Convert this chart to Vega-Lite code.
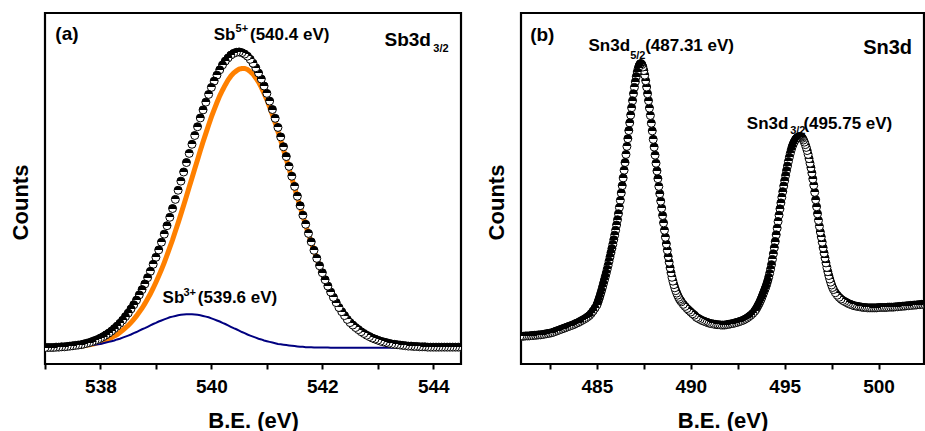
{
"$schema": "https://vega.github.io/schema/vega-lite/v6.json",
"background": "white",
"padding": {"left": 7, "top": 11, "right": 0, "bottom": 0},
"spacing": 60,
"bounds": "flush",
"config": {
 "view": {"stroke": "black", "strokeWidth": 2.2},
 "font": "Liberation Sans",
 "axisY": {"labels": false, "ticks": false, "domain": false, "grid": false, "titleX": -25, "titleY": 189, "titleAngle": -90, "titleAlign": "center", "titleBaseline": "middle", "titleFontSize": 22, "titleFontWeight": "bold", "titleColor": "black", "titleFont": "Liberation Sans"},
 "axisX": {"domain": false, "grid": false, "tickSize": 5, "tickWidth": 2, "tickColor": "black", "labelFont": "Liberation Sans", "labelFontSize": 19, "labelFontWeight": "bold", "labelColor": "black", "labelPadding": 8, "labelOverlap": false, "labelFlush": false, "titleFont": "Liberation Sans", "titleFontSize": 22, "titleFontWeight": "bold", "titleColor": "black", "titleY": 56, "titleBaseline": "middle"}
},
"datasets": {
 "sb": [
{"x":544.5,"c":4.8,"o":4.6,"b":4.6},{"x":544.45,"c":4.8,"o":4.6,"b":4.6},{"x":544.4,"c":4.8,"o":4.6,"b":4.6},{"x":544.35,"c":4.8,"o":4.6,"b":4.6},{"x":544.3,"c":4.8,"o":4.6,"b":4.6},{"x":544.25,"c":4.8,"o":4.6,"b":4.6},{"x":544.2,"c":4.8,"o":4.6,"b":4.6},{"x":544.15,"c":4.8,"o":4.6,"b":4.6},{"x":544.1,"c":4.8,"o":4.6,"b":4.6},{"x":544.05,"c":4.8,"o":4.6,"b":4.6},{"x":544.0,"c":4.8,"o":4.6,"b":4.6},
{"x":543.95,"c":4.8,"o":4.6,"b":4.6},{"x":543.9,"c":4.8,"o":4.7,"b":4.6},{"x":543.85,"c":4.9,"o":4.7,"b":4.6},{"x":543.8,"c":4.9,"o":4.7,"b":4.6},{"x":543.75,"c":4.9,"o":4.7,"b":4.6},{"x":543.7,"c":5.0,"o":4.7,"b":4.6},{"x":543.65,"c":5.0,"o":4.8,"b":4.6},{"x":543.6,"c":5.1,"o":4.8,"b":4.6},{"x":543.55,"c":5.1,"o":4.9,"b":4.6},{"x":543.5,"c":5.2,"o":4.9,"b":4.6},
{"x":543.45,"c":5.3,"o":5.0,"b":4.6},{"x":543.4,"c":5.4,"o":5.1,"b":4.6},{"x":543.35,"c":5.5,"o":5.1,"b":4.6},{"x":543.3,"c":5.6,"o":5.3,"b":4.6},{"x":543.25,"c":5.7,"o":5.4,"b":4.6},{"x":543.2,"c":5.9,"o":5.5,"b":4.6},{"x":543.15,"c":6.1,"o":5.7,"b":4.6},{"x":543.1,"c":6.3,"o":5.9,"b":4.6},{"x":543.05,"c":6.5,"o":6.1,"b":4.6},{"x":543.0,"c":6.8,"o":6.4,"b":4.6},
{"x":542.95,"c":7.1,"o":6.7,"b":4.6},{"x":542.9,"c":7.4,"o":7.0,"b":4.6},{"x":542.85,"c":7.8,"o":7.4,"b":4.6},{"x":542.8,"c":8.2,"o":7.8,"b":4.6},{"x":542.75,"c":8.7,"o":8.3,"b":4.6},{"x":542.7,"c":9.2,"o":8.9,"b":4.6},{"x":542.65,"c":9.8,"o":9.5,"b":4.6},{"x":542.6,"c":10.4,"o":10.2,"b":4.6},{"x":542.55,"c":11.1,"o":10.9,"b":4.6},{"x":542.5,"c":11.8,"o":11.8,"b":4.6},
{"x":542.45,"c":12.7,"o":12.7,"b":4.6},{"x":542.4,"c":13.8,"o":13.8,"b":4.6},{"x":542.35,"c":14.9,"o":14.9,"b":4.6},{"x":542.3,"c":16.1,"o":16.1,"b":4.6},{"x":542.25,"c":17.5,"o":17.5,"b":4.6},{"x":542.2,"c":19.0,"o":18.9,"b":4.6},{"x":542.15,"c":20.5,"o":20.5,"b":4.6},{"x":542.1,"c":22.2,"o":22.2,"b":4.7},{"x":542.05,"c":24.0,"o":24.0,"b":4.7},{"x":542.0,"c":26.0,"o":25.9,"b":4.7},
{"x":541.95,"c":28.0,"o":27.9,"b":4.7},{"x":541.9,"c":30.1,"o":30.0,"b":4.7},{"x":541.85,"c":32.4,"o":32.3,"b":4.7},{"x":541.8,"c":34.8,"o":34.6,"b":4.8},{"x":541.75,"c":37.2,"o":37.0,"b":4.8},{"x":541.7,"c":39.8,"o":39.5,"b":4.8},{"x":541.65,"c":42.4,"o":42.1,"b":4.9},{"x":541.6,"c":45.1,"o":44.8,"b":4.9},{"x":541.55,"c":47.8,"o":47.4,"b":5.0},{"x":541.5,"c":50.6,"o":50.2,"b":5.1},
{"x":541.45,"c":53.5,"o":52.9,"b":5.2},{"x":541.4,"c":56.3,"o":55.6,"b":5.3},{"x":541.35,"c":59.1,"o":58.4,"b":5.4},{"x":541.3,"c":61.9,"o":61.0,"b":5.5},{"x":541.25,"c":64.7,"o":63.7,"b":5.6},{"x":541.2,"c":67.4,"o":66.2,"b":5.7},{"x":541.15,"c":70.0,"o":68.7,"b":5.9},{"x":541.1,"c":72.5,"o":71.0,"b":6.1},{"x":541.05,"c":74.9,"o":73.2,"b":6.3},{"x":541.0,"c":77.1,"o":75.3,"b":6.5},
{"x":540.95,"c":79.2,"o":77.1,"b":6.7},{"x":540.9,"c":81.2,"o":78.8,"b":7.0},{"x":540.85,"c":82.9,"o":80.3,"b":7.2},{"x":540.8,"c":84.4,"o":81.5,"b":7.5},{"x":540.75,"c":85.7,"o":82.6,"b":7.8},{"x":540.7,"c":86.8,"o":83.3,"b":8.1},{"x":540.65,"c":87.7,"o":83.9,"b":8.4},{"x":540.6,"c":88.3,"o":84.2,"b":8.8},{"x":540.55,"c":88.7,"o":84.2,"b":9.1},{"x":540.5,"c":88.9,"o":84.0,"b":9.5},
{"x":540.45,"c":88.8,"o":83.5,"b":9.9},{"x":540.4,"c":88.5,"o":82.9,"b":10.2},{"x":540.35,"c":88.0,"o":82.0,"b":10.6},{"x":540.3,"c":87.2,"o":80.9,"b":11.0},{"x":540.25,"c":86.3,"o":79.5,"b":11.4},{"x":540.2,"c":85.2,"o":78.0,"b":11.7},{"x":540.15,"c":83.8,"o":76.4,"b":12.1},{"x":540.1,"c":82.3,"o":74.5,"b":12.4},{"x":540.05,"c":80.6,"o":72.5,"b":12.7},{"x":540.0,"c":78.8,"o":70.4,"b":13.0},
{"x":539.95,"c":76.8,"o":68.1,"b":13.3},{"x":539.9,"c":74.6,"o":65.7,"b":13.5},{"x":539.85,"c":72.4,"o":63.3,"b":13.7},{"x":539.8,"c":70.1,"o":60.8,"b":13.9},{"x":539.75,"c":67.6,"o":58.2,"b":14.0},{"x":539.7,"c":65.1,"o":55.6,"b":14.1},{"x":539.65,"c":62.6,"o":53.0,"b":14.2},{"x":539.6,"c":60.0,"o":50.4,"b":14.2},{"x":539.55,"c":57.4,"o":47.8,"b":14.2},{"x":539.5,"c":54.7,"o":45.2,"b":14.1},
{"x":539.45,"c":52.1,"o":42.7,"b":14.0},{"x":539.4,"c":49.5,"o":40.2,"b":13.9},{"x":539.35,"c":46.9,"o":37.8,"b":13.7},{"x":539.3,"c":44.3,"o":35.4,"b":13.5},{"x":539.25,"c":41.8,"o":33.2,"b":13.3},{"x":539.2,"c":39.4,"o":31.0,"b":13.0},{"x":539.15,"c":37.0,"o":28.9,"b":12.7},{"x":539.1,"c":34.7,"o":26.9,"b":12.4},{"x":539.05,"c":32.5,"o":25.1,"b":12.1},{"x":539.0,"c":30.4,"o":23.3,"b":11.7},
{"x":538.95,"c":28.4,"o":21.6,"b":11.4},{"x":538.9,"c":26.4,"o":20.0,"b":11.0},{"x":538.85,"c":24.6,"o":18.6,"b":10.6},{"x":538.8,"c":22.8,"o":17.2,"b":10.2},{"x":538.75,"c":21.2,"o":15.9,"b":9.9},{"x":538.7,"c":19.7,"o":14.8,"b":9.5},{"x":538.65,"c":18.2,"o":13.7,"b":9.1},{"x":538.6,"c":16.9,"o":12.7,"b":8.8},{"x":538.55,"c":15.7,"o":11.8,"b":8.4},{"x":538.5,"c":14.5,"o":11.0,"b":8.1},
{"x":538.45,"c":13.5,"o":10.3,"b":7.8},{"x":538.4,"c":12.5,"o":9.6,"b":7.5},{"x":538.35,"c":11.6,"o":9.0,"b":7.2},{"x":538.3,"c":10.8,"o":8.4,"b":7.0},{"x":538.25,"c":10.1,"o":8.0,"b":6.7},{"x":538.2,"c":9.4,"o":7.5,"b":6.5},{"x":538.15,"c":8.8,"o":7.1,"b":6.3},{"x":538.1,"c":8.3,"o":6.8,"b":6.1},{"x":538.05,"c":7.8,"o":6.5,"b":5.9},{"x":538.0,"c":7.4,"o":6.2,"b":5.7},
{"x":537.95,"c":7.0,"o":6.0,"b":5.6},{"x":537.9,"c":6.7,"o":5.8,"b":5.5},{"x":537.85,"c":6.4,"o":5.6,"b":5.4},{"x":537.8,"c":6.1,"o":5.5,"b":5.3},{"x":537.75,"c":5.9,"o":5.3,"b":5.2},{"x":537.7,"c":5.7,"o":5.2,"b":5.1},{"x":537.65,"c":5.5,"o":5.1,"b":5.0},{"x":537.6,"c":5.4,"o":5.0,"b":4.9},{"x":537.55,"c":5.3,"o":5.0,"b":4.9},{"x":537.5,"c":5.2,"o":4.9,"b":4.8},
{"x":537.45,"c":5.1,"o":4.9,"b":4.8},{"x":537.4,"c":5.0,"o":4.8,"b":4.8},{"x":537.35,"c":4.9,"o":4.8,"b":4.7},{"x":537.3,"c":4.9,"o":4.8,"b":4.7},{"x":537.25,"c":4.8,"o":4.7,"b":4.7},{"x":537.2,"c":4.8,"o":4.7,"b":4.7},{"x":537.15,"c":4.7,"o":4.7,"b":4.7},{"x":537.1,"c":4.7,"o":4.7,"b":4.7},{"x":537.05,"c":4.7,"o":4.7,"b":4.6},{"x":537.0,"c":4.7,"o":4.6,"b":4.6}
 ],
 "sn": [
{"x":502.5,"c":17.0},{"x":502.4,"c":17.0},{"x":502.3,"c":17.0},{"x":502.2,"c":16.9},{"x":502.1,"c":16.9},{"x":502.0,"c":16.8},{"x":501.9,"c":16.8},{"x":501.8,"c":16.7},{"x":501.7,"c":16.7},{"x":501.6,"c":16.6},{"x":501.5,"c":16.6},{"x":501.4,"c":16.5},{"x":501.3,"c":16.5},{"x":501.2,"c":16.4},{"x":501.1,"c":16.4},{"x":501.0,"c":16.3},
{"x":500.9,"c":16.3},{"x":500.8,"c":16.2},{"x":500.7,"c":16.2},{"x":500.6,"c":16.2},{"x":500.5,"c":16.2},{"x":500.4,"c":16.1},{"x":500.3,"c":16.1},{"x":500.2,"c":16.1},{"x":500.1,"c":16.1},{"x":500.0,"c":16.1},
{"x":499.9,"c":16.0},{"x":499.8,"c":16.0},{"x":499.7,"c":16.0},{"x":499.6,"c":16.0},{"x":499.5,"c":16.0},{"x":499.4,"c":16.0},{"x":499.3,"c":16.1},{"x":499.2,"c":16.1},{"x":499.1,"c":16.2},{"x":499.0,"c":16.3},
{"x":498.9,"c":16.4},{"x":498.8,"c":16.5},{"x":498.7,"c":16.6},{"x":498.6,"c":16.8},{"x":498.5,"c":17.0},{"x":498.4,"c":17.2},{"x":498.3,"c":17.5},{"x":498.2,"c":17.8},{"x":498.1,"c":18.1},{"x":498.0,"c":18.5},
{"x":497.9,"c":19.0},{"x":497.8,"c":19.6},{"x":497.7,"c":20.3},{"x":497.6,"c":21.2},{"x":497.55,"c":21.8},{"x":497.5,"c":22.5},{"x":497.45,"c":23.3},{"x":497.4,"c":24.2},{"x":497.35,"c":25.2},{"x":497.3,"c":26.3},{"x":497.25,"c":27.5},{"x":497.2,"c":28.8},{"x":497.15,"c":30.2},{"x":497.1,"c":31.6},{"x":497.05,"c":33.1},{"x":497.0,"c":34.7},
{"x":496.95,"c":36.2},{"x":496.9,"c":37.6},{"x":496.85,"c":39.2},{"x":496.8,"c":40.9},{"x":496.75,"c":42.8},{"x":496.7,"c":44.8},{"x":496.65,"c":46.8},{"x":496.6,"c":48.9},{"x":496.55,"c":50.9},{"x":496.5,"c":52.7},{"x":496.45,"c":54.4},{"x":496.4,"c":55.9},{"x":496.35,"c":57.2},{"x":496.3,"c":58.5},{"x":496.25,"c":59.7},{"x":496.2,"c":60.8},{"x":496.15,"c":61.7},{"x":496.1,"c":62.5},{"x":496.05,"c":63.2},{"x":496.0,"c":63.8},
{"x":495.95,"c":64.3},{"x":495.9,"c":64.6},{"x":495.85,"c":64.8},{"x":495.8,"c":64.8},{"x":495.75,"c":64.7},{"x":495.7,"c":64.6},{"x":495.65,"c":64.4},{"x":495.6,"c":64.1},{"x":495.55,"c":63.7},{"x":495.5,"c":63.2},{"x":495.45,"c":62.6},{"x":495.4,"c":61.9},{"x":495.35,"c":61.0},{"x":495.3,"c":60.0},{"x":495.25,"c":58.9},{"x":495.2,"c":57.7},{"x":495.15,"c":56.4},{"x":495.1,"c":55.1},{"x":495.05,"c":53.7},{"x":495.0,"c":52.2},
{"x":494.95,"c":50.7},{"x":494.9,"c":49.1},{"x":494.85,"c":47.5},{"x":494.8,"c":45.9},{"x":494.75,"c":44.2},{"x":494.7,"c":42.4},{"x":494.65,"c":40.6},{"x":494.6,"c":38.7},{"x":494.55,"c":36.8},{"x":494.5,"c":34.9},{"x":494.45,"c":33.1},{"x":494.4,"c":31.4},{"x":494.35,"c":29.8},{"x":494.3,"c":28.3},{"x":494.25,"c":27.0},{"x":494.2,"c":25.8},{"x":494.15,"c":24.7},{"x":494.1,"c":23.7},{"x":494.05,"c":22.8},{"x":494.0,"c":22.0},
{"x":493.95,"c":21.3},{"x":493.9,"c":20.6},{"x":493.85,"c":19.9},{"x":493.8,"c":19.2},{"x":493.75,"c":18.5},{"x":493.7,"c":17.9},{"x":493.65,"c":17.3},{"x":493.6,"c":16.8},{"x":493.55,"c":16.3},{"x":493.5,"c":15.8},{"x":493.45,"c":15.4},{"x":493.4,"c":15.0},{"x":493.3,"c":14.4},{"x":493.2,"c":13.9},{"x":493.1,"c":13.5},{"x":493.0,"c":13.1},
{"x":492.9,"c":12.8},{"x":492.8,"c":12.5},{"x":492.7,"c":12.3},{"x":492.6,"c":12.1},{"x":492.5,"c":11.9},{"x":492.4,"c":11.8},{"x":492.3,"c":11.6},{"x":492.2,"c":11.5},{"x":492.1,"c":11.4},{"x":492.0,"c":11.3},
{"x":491.9,"c":11.2},{"x":491.8,"c":11.1},{"x":491.7,"c":11.1},{"x":491.6,"c":11.1},{"x":491.5,"c":11.2},{"x":491.4,"c":11.2},{"x":491.3,"c":11.3},{"x":491.2,"c":11.4},{"x":491.1,"c":11.5},{"x":491.0,"c":11.6},
{"x":490.9,"c":11.8},{"x":490.8,"c":12.0},{"x":490.7,"c":12.2},{"x":490.6,"c":12.4},{"x":490.5,"c":12.7},{"x":490.4,"c":13.0},{"x":490.3,"c":13.3},{"x":490.2,"c":13.9},{"x":490.1,"c":14.3},{"x":490.0,"c":14.8},
{"x":489.9,"c":15.3},{"x":489.8,"c":15.8},{"x":489.7,"c":16.4},{"x":489.6,"c":17.0},{"x":489.5,"c":17.7},{"x":489.45,"c":18.1},{"x":489.4,"c":18.5},{"x":489.35,"c":19.0},{"x":489.3,"c":19.6},{"x":489.25,"c":20.2},{"x":489.2,"c":20.9},{"x":489.15,"c":21.7},{"x":489.1,"c":22.6},{"x":489.05,"c":23.6},{"x":489.0,"c":24.7},
{"x":488.95,"c":26.0},{"x":488.9,"c":27.4},{"x":488.85,"c":29.0},{"x":488.8,"c":30.6},{"x":488.75,"c":32.4},{"x":488.7,"c":34.2},{"x":488.65,"c":36.1},{"x":488.6,"c":38.1},{"x":488.55,"c":40.2},{"x":488.5,"c":42.3},{"x":488.45,"c":44.4},{"x":488.4,"c":46.4},{"x":488.35,"c":48.5},{"x":488.3,"c":50.6},{"x":488.25,"c":52.8},{"x":488.2,"c":55.0},{"x":488.15,"c":57.2},{"x":488.1,"c":59.5},{"x":488.05,"c":61.8},{"x":488.0,"c":64.0},
{"x":487.95,"c":66.4},{"x":487.9,"c":68.6},{"x":487.85,"c":70.8},{"x":487.8,"c":72.9},{"x":487.75,"c":75.0},{"x":487.7,"c":77.0},{"x":487.65,"c":78.9},{"x":487.6,"c":80.7},{"x":487.55,"c":82.3},{"x":487.5,"c":83.6},{"x":487.45,"c":84.6},{"x":487.4,"c":85.3},{"x":487.35,"c":85.6},{"x":487.3,"c":85.5},{"x":487.25,"c":85.0},{"x":487.2,"c":84.2},{"x":487.15,"c":83.2},{"x":487.1,"c":81.9},{"x":487.05,"c":80.4},{"x":487.0,"c":78.8},
{"x":486.95,"c":77.0},{"x":486.9,"c":75.0},{"x":486.85,"c":73.0},{"x":486.8,"c":70.9},{"x":486.75,"c":68.7},{"x":486.7,"c":66.5},{"x":486.65,"c":64.2},{"x":486.6,"c":62.0},{"x":486.55,"c":59.7},{"x":486.5,"c":57.4},{"x":486.45,"c":55.2},{"x":486.4,"c":53.0},{"x":486.35,"c":50.8},{"x":486.3,"c":48.7},{"x":486.25,"c":46.6},{"x":486.2,"c":44.6},{"x":486.15,"c":42.8},{"x":486.1,"c":41.1},{"x":486.05,"c":39.6},{"x":486.0,"c":38.1},
{"x":485.95,"c":36.7},{"x":485.9,"c":35.4},{"x":485.85,"c":34.1},{"x":485.8,"c":32.9},{"x":485.75,"c":31.7},{"x":485.7,"c":30.5},{"x":485.65,"c":29.3},{"x":485.6,"c":28.1},{"x":485.55,"c":27.0},{"x":485.5,"c":25.9},{"x":485.45,"c":24.9},{"x":485.4,"c":23.9},{"x":485.35,"c":22.9},{"x":485.3,"c":21.9},{"x":485.25,"c":20.9},{"x":485.2,"c":20.0},{"x":485.15,"c":19.1},{"x":485.1,"c":18.3},{"x":485.05,"c":17.5},{"x":485.0,"c":16.8},
{"x":484.9,"c":15.9},{"x":484.8,"c":15.1},{"x":484.7,"c":14.4},{"x":484.6,"c":13.8},{"x":484.5,"c":13.4},{"x":484.4,"c":13.0},{"x":484.3,"c":12.7},{"x":484.2,"c":12.4},{"x":484.1,"c":12.1},{"x":484.0,"c":11.8},
{"x":483.9,"c":11.6},{"x":483.8,"c":11.3},{"x":483.7,"c":11.1},{"x":483.6,"c":10.9},{"x":483.5,"c":10.7},{"x":483.4,"c":10.5},{"x":483.3,"c":10.3},{"x":483.2,"c":10.1},{"x":483.1,"c":9.9},{"x":483.0,"c":9.7},
{"x":482.9,"c":9.5},{"x":482.8,"c":9.3},{"x":482.7,"c":9.1},{"x":482.6,"c":8.9},{"x":482.5,"c":8.8},{"x":482.4,"c":8.7},{"x":482.3,"c":8.6},{"x":482.2,"c":8.5},{"x":482.1,"c":8.4},{"x":482.0,"c":8.3},
{"x":481.9,"c":8.3},{"x":481.8,"c":8.2},{"x":481.7,"c":8.2},{"x":481.6,"c":8.1},{"x":481.5,"c":8.1},{"x":481.4,"c":8.0},{"x":481.3,"c":8.0},{"x":481.2,"c":8.0},{"x":481.1,"c":7.9},{"x":481.0,"c":7.9},{"x":480.9,"c":7.9}
 ]
},
"hconcat": [
 {
  "width": 416, "height": 351,
  "encoding": {"x": {"field": "x", "type": "quantitative", "scale": {"domain": [537, 544.5], "nice": false, "zero": false}, "axis": {"title": "B.E. (eV)", "values": [537, 538, 539, 540, 541, 542, 543, 544], "labelExpr": "datum.value % 2 === 0 ? datum.label : ''"}}},
  "layer": [
   {"data": {"name": "sb"}, "mark": {"type": "line", "color": "#ff8000", "strokeWidth": 5, "clip": true},
    "encoding": {"y": {"field": "o", "type": "quantitative", "scale": {"domain": [0, 100], "nice": false, "zero": false}, "axis": {"title": "Counts"}}}},
   {"data": {"name": "sb"}, "mark": {"type": "line", "color": "#000080", "strokeWidth": 2, "clip": true},
    "encoding": {"y": {"field": "b", "type": "quantitative", "scale": {"domain": [0, 100], "nice": false, "zero": false}, "axis": {"title": "Counts"}}}},
   {"data": {"name": "sb"}, "mark": {"type": "point", "shape": "circle", "size": 64, "filled": true, "opacity": 1, "fillOpacity": 1, "stroke": "black", "strokeWidth": 1, "clip": true,
     "fill": {"gradient": "linear", "x1": 0, "y1": 0, "x2": 0, "y2": 1, "stops": [{"offset": 0, "color": "black"}, {"offset": 0.5, "color": "black"}, {"offset": 0.5, "color": "white"}, {"offset": 1, "color": "white"}]}},
    "encoding": {"y": {"field": "c", "type": "quantitative", "scale": {"domain": [0, 100], "nice": false, "zero": false}, "axis": {"title": "Counts"}}}},
   {"data": {"values": [{"x": 540.042, "y": 93.7, "t": "Sb"}, {"x": 540.696, "y": 93.7, "t": "(540.4 eV)"}, {"x": 539.12, "y": 18.9, "t": "Sb"}, {"x": 539.756, "y": 18.9, "t": "(539.6 eV)"}]},
    "mark": {"type": "text", "align": "left", "baseline": "middle", "fontSize": 17, "fontWeight": "bold", "font": "Liberation Sans", "color": "black"},
    "encoding": {"y": {"field": "y", "type": "quantitative", "scale": {"domain": [0, 100], "nice": false, "zero": false}, "axis": {"title": "Counts"}}, "text": {"field": "t"}}},
   {"data": {"values": [{"x": 540.436, "y": 95.4, "t": "5+"}, {"x": 539.496, "y": 20.1, "t": "3+"}, {"x": 544.0, "y": 89.7, "t": "3/2"}]},
    "mark": {"type": "text", "align": "left", "baseline": "middle", "fontSize": 11, "fontWeight": "bold", "font": "Liberation Sans", "color": "black"},
    "encoding": {"y": {"field": "y", "type": "quantitative", "scale": {"domain": [0, 100], "nice": false, "zero": false}, "axis": {"title": "Counts"}}, "text": {"field": "t"}}},
   {"data": {"values": [{"x": 537.187, "y": 94.0, "t": "(a)"}, {"x": 543.12, "y": 92.3, "t": "Sb3d"}]},
    "mark": {"type": "text", "align": "left", "baseline": "middle", "fontSize": 19, "fontWeight": "bold", "font": "Liberation Sans", "color": "black"},
    "encoding": {"y": {"field": "y", "type": "quantitative", "scale": {"domain": [0, 100], "nice": false, "zero": false}, "axis": {"title": "Counts"}}, "text": {"field": "t"}}}
  ]
 },
 {
  "width": 403, "height": 351,
  "encoding": {"x": {"field": "x", "type": "quantitative", "scale": {"domain": [480.96, 502.42], "nice": false, "zero": false}, "axis": {"title": "B.E. (eV)", "values": [482.5, 485, 487.5, 490, 492.5, 495, 497.5, 500, 502.5], "labelExpr": "datum.value % 5 === 0 ? datum.label : ''"}}},
  "layer": [
   {"data": {"name": "sn"}, "mark": {"type": "point", "shape": "circle", "size": 64, "filled": true, "opacity": 1, "fillOpacity": 1, "stroke": "black", "strokeWidth": 1, "clip": true,
     "fill": {"gradient": "linear", "x1": 0, "y1": 0, "x2": 0, "y2": 1, "stops": [{"offset": 0, "color": "black"}, {"offset": 0.5, "color": "black"}, {"offset": 0.5, "color": "white"}, {"offset": 1, "color": "white"}]}},
    "encoding": {"y": {"field": "c", "type": "quantitative", "scale": {"domain": [0, 100], "nice": false, "zero": false}, "axis": {"title": "Counts"}}}},
   {"data": {"values": [{"x": 484.553, "y": 90.5, "t": "Sn3d"}, {"x": 487.572, "y": 90.5, "t": "(487.31 eV)"}, {"x": 492.987, "y": 68.5, "t": "Sn3d"}, {"x": 496.0, "y": 68.5, "t": "(495.75 eV)"}]},
    "mark": {"type": "text", "align": "left", "baseline": "middle", "fontSize": 17, "fontWeight": "bold", "font": "Liberation Sans", "color": "black"},
    "encoding": {"y": {"field": "y", "type": "quantitative", "scale": {"domain": [0, 100], "nice": false, "zero": false}, "axis": {"title": "Counts"}}, "text": {"field": "t"}}},
   {"data": {"values": [{"x": 486.773, "y": 87.75, "t": "5/2"}, {"x": 495.293, "y": 66.4, "t": "3/2"}]},
    "mark": {"type": "text", "align": "left", "baseline": "middle", "fontSize": 11, "fontWeight": "bold", "font": "Liberation Sans", "color": "black"},
    "encoding": {"y": {"field": "y", "type": "quantitative", "scale": {"domain": [0, 100], "nice": false, "zero": false}, "axis": {"title": "Counts"}}, "text": {"field": "t"}}},
   {"data": {"values": [{"x": 481.448, "y": 93.7, "t": "(b)"}]},
    "mark": {"type": "text", "align": "left", "baseline": "middle", "fontSize": 19, "fontWeight": "bold", "font": "Liberation Sans", "color": "black"},
    "encoding": {"y": {"field": "y", "type": "quantitative", "scale": {"domain": [0, 100], "nice": false, "zero": false}, "axis": {"title": "Counts"}}, "text": {"field": "t"}}},
   {"data": {"values": [{"x": 499.18, "y": 89.9, "t": "Sn3d"}]},
    "mark": {"type": "text", "align": "left", "baseline": "middle", "fontSize": 20, "fontWeight": "bold", "font": "Liberation Sans", "color": "black"},
    "encoding": {"y": {"field": "y", "type": "quantitative", "scale": {"domain": [0, 100], "nice": false, "zero": false}, "axis": {"title": "Counts"}}, "text": {"field": "t"}}}
  ]
 }
]
}
